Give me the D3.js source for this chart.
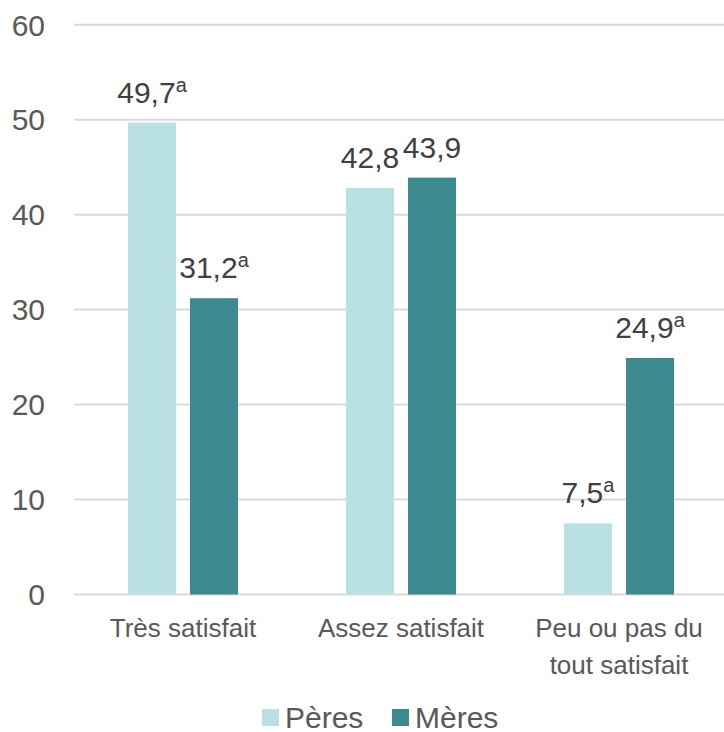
<!DOCTYPE html>
<html>
<head>
<meta charset="utf-8">
<style>
    body { margin: 0; background: #fff; font-family: "Liberation Sans", Arial, sans-serif; }
    .grid line { stroke: #d9d9d9; stroke-width: 2; }
    .tick-label { fill: #595959; font-size: 30px; }
    .cat-label { fill: #595959; font-size: 26px; }
    .value-label { fill: #404040; font-size: 30px; }
    .legend text { fill: #595959; font-size: 30px; }
</style>
</head>
<body>
<script src="https://d3js.org/d3.v7.min.js"></script>
<script>
var categories = [["Très satisfait"], ["Assez satisfait"], ["Peu ou pas du", "tout satisfait"]];
var seriesNames = ["Pères", "Mères"];
var peres = [49.7, 42.8, 7.5];
var meres = [31.2, 43.9, 24.9];
var peresSup = ["a", "", "a"];
var meresSup = ["a", "", "a"];
var yTicks = [0, 10, 20, 30, 40, 50, 60];
var colors = ["#b9e0e3", "#3c8a8f"];

var width = 724, height = 732;
var svg = d3.select("body").append("svg")
    .attr("width", width)
    .attr("height", height);

var x0 = d3.scaleBand()
    .domain(d3.range(categories.length))
    .range([74, 728]);

var y = d3.scaleLinear()
    .domain([0, 60])
    .range([594.5, 24.7]);

var barW = 48, gap = 14;

// gridlines
svg.append("g").attr("class", "grid")
    .selectAll("line")
    .data(yTicks)
    .enter().append("line")
    .attr("x1", 74).attr("x2", width)
    .attr("y1", function(d) { return y(d); })
    .attr("y2", function(d) { return y(d); });

svg.append("g")
    .selectAll("text")
    .data(yTicks)
    .enter().append("text")
    .attr("class", "tick-label")
    .attr("x", 45)
    .attr("y", function(d) { return y(d); })
    .attr("dy", "0.36em")
    .attr("text-anchor", "end")
    .text(function(d) { return d; });

var rows = [];
categories.forEach(function(c, i) {
    var center = x0(i) + x0.bandwidth() / 2;
    rows.push({ i: i, s: 0, v: peres[i], sup: peresSup[i], cx: center - gap / 2 - barW / 2 });
    rows.push({ i: i, s: 1, v: meres[i], sup: meresSup[i], cx: center + gap / 2 + barW / 2 });
});

svg.append("g")
    .selectAll("rect")
    .data(rows)
    .enter().append("rect")
    .attr("x", function(d) { return d.cx - barW / 2; })
    .attr("width", barW)
    .attr("y", function(d) { return y(d.v); })
    .attr("height", function(d) { return y(0) - y(d.v); })
    .attr("fill", function(d) { return colors[d.s]; });

var fmt = function(v) { return d3.format(".1f")(v).replace(".", ","); };

var vl = svg.append("g")
    .selectAll("text")
    .data(rows)
    .enter().append("text")
    .attr("class", "value-label")
    .attr("x", function(d) { return d.cx; })
    .attr("y", function(d) { return y(d.v) - 20; })
    .attr("text-anchor", "middle");

vl.append("tspan").text(function(d) { return fmt(d.v); });
vl.append("tspan")
    .attr("font-size", "20px")
    .attr("dy", -11)
    .text(function(d) { return d.sup; });

// category labels
var cl = svg.append("g")
    .selectAll("text")
    .data(categories)
    .enter().append("text")
    .attr("class", "cat-label")
    .attr("text-anchor", "middle")
    .attr("y", 637);

cl.selectAll("tspan")
    .data(function(d, i) { return d.map(function(t) { return { t: t, i: i }; }); })
    .enter().append("tspan")
    .attr("x", function(d) { return x0(d.i) + x0.bandwidth() / 2; })
    .attr("dy", function(d, j) { return j === 0 ? 0 : 37; })
    .text(function(d) { return d.t; });

// legend
var legend = svg.append("g").attr("class", "legend");
var lx = [262, 392];
seriesNames.forEach(function(name, i) {
    legend.append("rect")
        .attr("x", lx[i]).attr("y", 709)
        .attr("width", 17).attr("height", 17)
        .attr("fill", colors[i]);
    legend.append("text")
        .attr("x", lx[i] + 23)
        .attr("y", 727.5)
        .text(name);
});
</script>
</body>
</html>
